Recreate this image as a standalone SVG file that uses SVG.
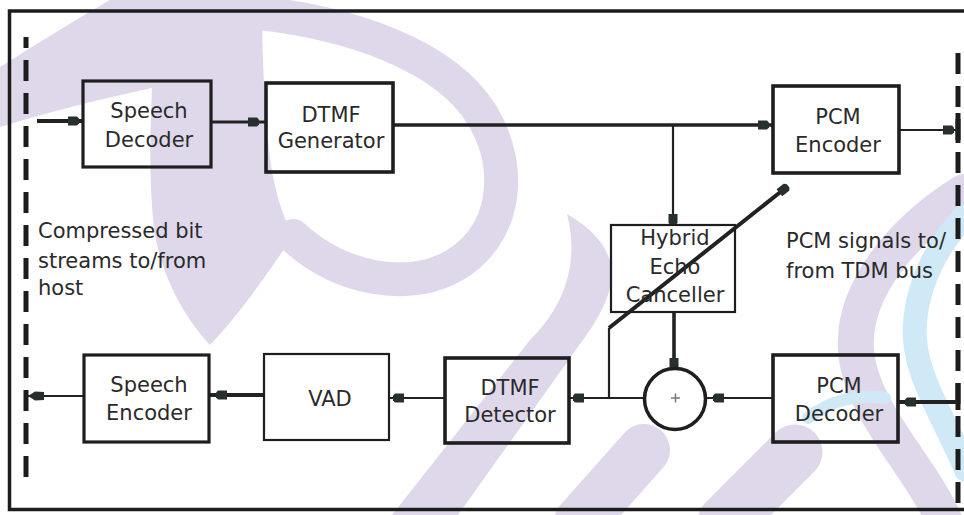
<svg xmlns="http://www.w3.org/2000/svg" width="964" height="515" viewBox="0 0 964 515">
<style>
.wm{fill:#dfd8eb;stroke:none}
.wms{fill:none;stroke:#dfd8eb;stroke-linecap:round}
.wmc{fill:none;stroke:#cfeaf6;stroke-linecap:round}
.frame{fill:none;stroke:#1c1c1c;stroke-width:3.5}
.dash{fill:none;stroke:#1c1c1c;stroke-width:5;stroke-dasharray:21 12}
.solid{fill:none;stroke:#1c1c1c;stroke-width:5}
.box{fill:none;stroke:#1e1e1e;stroke-width:3.2}
.thin{stroke-width:2.2}
.ln{fill:none;stroke:#222;stroke-width:2.2}
.lnt{fill:none;stroke:#222;stroke-width:4}
.t{font-family:"DejaVu Sans","Liberation Sans",sans-serif;font-size:21px;fill:#2a2a2a}
.c{text-anchor:middle}
</style>
<defs>
<marker id="b0" markerUnits="userSpaceOnUse" markerWidth="30" markerHeight="14" viewBox="-30 -7 30 14" refX="0" refY="0" orient="auto" overflow="visible">
<path d="M-11,-4.5 L-2,-4.5 L0,-2.5 L0,2.5 L-2,4.5 L-11,4.5 Z" fill="#28302d"/>
</marker>
<marker id="b4" markerUnits="userSpaceOnUse" markerWidth="30" markerHeight="14" viewBox="-30 -7 30 14" refX="0" refY="0" orient="auto" overflow="visible">
<path d="M-15,-4.5 L-6,-4.5 L-4,-2.5 L-4,2.5 L-6,4.5 L-15,4.5 Z" fill="#28302d"/>
</marker>
<marker id="b7" markerUnits="userSpaceOnUse" markerWidth="30" markerHeight="14" viewBox="-30 -7 30 14" refX="0" refY="0" orient="auto" overflow="visible">
<path d="M-18,-4.5 L-9,-4.5 L-7,-2.5 L-7,2.5 L-9,4.5 L-18,4.5 Z" fill="#28302d"/>
</marker>
<marker id="arr" markerUnits="userSpaceOnUse" markerWidth="30" markerHeight="14" viewBox="-30 -7 30 14" refX="0" refY="0" orient="auto" overflow="visible">
<path d="M0,0 L-7,-4.5 L-16,-4 L-16,4 L-7,4.5 Z" fill="#28302d"/>
</marker>
</defs>
<rect x="0" y="0" width="964" height="515" fill="#ffffff"/>
<g id="watermark">
<path class="wm" d="M0 67 C35 45 75 20 110 0 L262 0 C262 50 264 100 268 140 C272 185 282 215 293 236 C262 282 236 318 210 345 C182 315 160 272 154 228 C149 185 150 135 152 88 C105 98 48 112 0 127 Z"/>
<path class="wms" stroke-width="34" d="M250 12 C350 22 445 55 482 115 C515 170 505 235 455 265 C410 292 340 280 293 236"/>
<path class="wm" d="M567 214 Q612 240 612 276 Q610 300 590 330 L458 515 L392 515 L530 340 Q585 285 567 214 Z"/>
<path class="wms" stroke-width="52" d="M644 450 L580 522"/>
<path class="wms" stroke-width="55" d="M795 452 L725 522"/>
<path class="wms" stroke-width="36" d="M964 192 C900 232 852 292 856 350 C860 410 918 462 945 522"/>
<path class="wmc" stroke-width="24" d="M966 215 C930 252 912 300 915 340 C918 380 945 420 966 470"/>
<path class="wmc" stroke-width="12" d="M808 418 C830 400 860 393 885 398"/>
</g>
<g id="frame">
<path class="frame" d="M964 11 H9.5 V509.5 H964"/>
</g>
<g id="boundaries">
<path class="dash" d="M26 37 V487" stroke-dashoffset="10"/>
<path class="dash" d="M958 53 V507"/>
<path class="solid" d="M958 113 V143 M958 383 V410"/>
</g>
<g id="connectors">
<path class="lnt" d="M37 121 H83" marker-end="url(#b4)"/>
<path class="ln" style="stroke-width:3" d="M211 122 H266" marker-end="url(#b7)"/>
<path class="ln" style="stroke-width:3.6" d="M393 125 H773" marker-end="url(#b4)"/>
<path class="ln" d="M673 125 V225" marker-end="url(#b0)"/>
<path class="ln" d="M899 130 H958" marker-end="url(#b4)"/>
<path class="ln" d="M609 398 V328"/>
<path class="lnt" d="M609 328 L788 186" marker-end="url(#b0)"/>
<path class="ln" style="stroke-width:3.6" d="M674 312 V369" marker-end="url(#b0)"/>
<path class="ln" d="M773 398 H706" marker-end="url(#b7)"/>
<path class="ln" d="M645 398 H569" marker-end="url(#b4)"/>
<path class="ln" d="M445 398 H389" marker-end="url(#b4)"/>
<path class="lnt" d="M264 395 H209" marker-end="url(#b7)"/>
<path class="ln" d="M84 396 H28" marker-end="url(#arr)"/>
<path class="lnt" d="M958 402 H898" marker-end="url(#b7)"/>
</g>
<g id="speech-decoder">
<rect class="box" x="83" y="81" width="128" height="86"/>
<text class="t c" x="149" y="118">Speech</text>
<text class="t c" x="149" y="147">Decoder</text>
</g>
<g id="dtmf-generator">
<rect class="box" style="stroke-width:3.6" x="266" y="83" width="127" height="89"/>
<text class="t c" x="331" y="122">DTMF</text>
<text class="t c" x="331" y="148">Generator</text>
</g>
<g id="pcm-encoder">
<rect class="box" style="stroke-width:3.6" x="773" y="86" width="126" height="87"/>
<text class="t c" x="838" y="124">PCM</text>
<text class="t c" x="838" y="152">Encoder</text>
</g>
<g id="hybrid-echo-canceller">
<rect class="box thin" x="611" y="225" width="124" height="87"/>
<text class="t c" x="675" y="245">Hybrid</text>
<text class="t c" x="675" y="274">Echo</text>
<text class="t c" x="675" y="302">Canceller</text>
</g>
<g id="summer">
<circle cx="675" cy="399" r="30.5" fill="none" stroke="#1e1e1e" stroke-width="3.5"/>
<path d="M671 398 H680 M675.5 393.5 V402.5" stroke="#777" stroke-width="1.5" fill="none"/>
</g>
<g id="pcm-decoder">
<rect class="box" style="stroke-width:3.6" x="773" y="355" width="125" height="87"/>
<text class="t c" x="839" y="393">PCM</text>
<text class="t c" x="839" y="421">Decoder</text>
</g>
<g id="dtmf-detector">
<rect class="box" style="stroke-width:3.6" x="445" y="358" width="124" height="85"/>
<text class="t c" x="510" y="395">DTMF</text>
<text class="t c" x="510" y="422">Detector</text>
</g>
<g id="vad">
<rect class="box thin" x="264" y="354" width="125" height="86"/>
<text class="t c" x="330" y="406">VAD</text>
</g>
<g id="speech-encoder">
<rect class="box" x="84" y="355" width="125" height="87"/>
<text class="t c" x="149" y="392">Speech</text>
<text class="t c" x="149" y="420">Encoder</text>
</g>
<g id="labels">
<text class="t" x="38" y="238">Compressed bit</text>
<text class="t" x="38" y="268">streams to/from</text>
<text class="t" x="38" y="295">host</text>
<text class="t" x="786" y="248">PCM signals to/</text>
<text class="t" x="786" y="278">from TDM bus</text>
</g>
</svg>
